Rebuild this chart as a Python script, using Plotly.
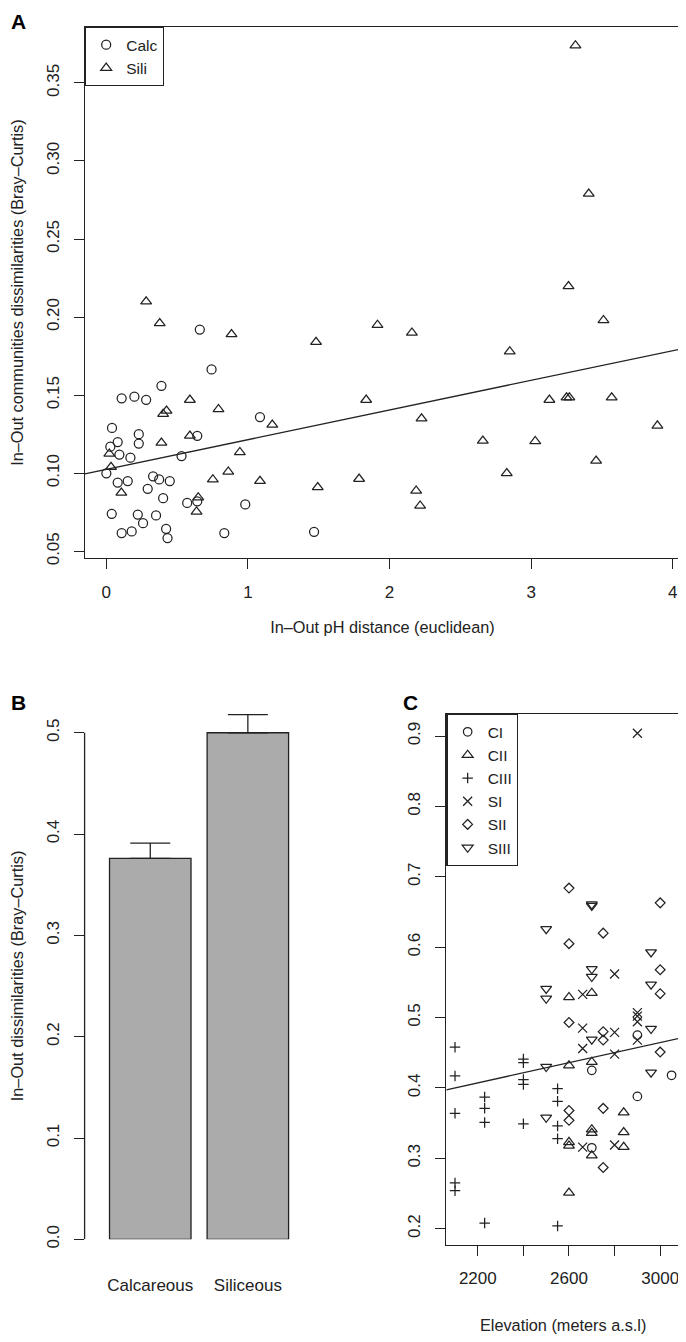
import plotly.graph_objects as go

# ---- panel A: in-out pH distance vs community dissimilarity ----
calc_ph = [0.66, 0.743, 0.389, 0.108, 0.198, 0.281, 1.085, 0.040, 0.080, 0.028,
           0.229, 0.229, 0.092, 0.170, 0.642, 0.531, 0.0, 0.080, 0.151, 0.330,
           0.373, 0.448, 0.292, 0.401, 0.571, 0.642, 0.981, 0.038, 0.222, 0.351,
           0.259, 0.422, 0.108, 0.179, 0.432, 0.833, 1.467]
calc_diss = [0.192, 0.1665, 0.156, 0.148, 0.149, 0.147, 0.136, 0.129, 0.120, 0.117,
             0.125, 0.119, 0.112, 0.110, 0.124, 0.111, 0.100, 0.094, 0.095, 0.098,
             0.096, 0.095, 0.090, 0.084, 0.081, 0.082, 0.080, 0.074, 0.0735, 0.073,
             0.068, 0.0644, 0.0617, 0.0627, 0.0585, 0.0617, 0.0625]
sili_ph = [0.281, 0.377, 0.884, 1.481, 1.915, 0.590, 0.425, 0.401, 0.792, 1.835,
           1.172, 0.590, 0.389, 0.021, 0.033, 0.943, 0.861, 0.752, 1.085, 1.785,
           1.493, 0.106, 0.649, 0.637,
           2.158, 2.849, 3.511, 3.129, 3.25, 3.27, 3.569, 2.226, 2.659, 3.029,
           3.892, 3.459, 2.828, 2.188, 2.216, 3.313, 3.407, 3.264]
sili_diss = [0.210, 0.196, 0.189, 0.184, 0.195, 0.147, 0.140, 0.138, 0.141, 0.147,
             0.131, 0.124, 0.1195, 0.1125, 0.104, 0.1135, 0.101, 0.096, 0.095, 0.0964,
             0.091, 0.0875, 0.0845, 0.0754,
             0.190, 0.178, 0.198, 0.147, 0.1485, 0.1485, 0.1485, 0.135, 0.1208, 0.1205,
             0.1305, 0.108, 0.100, 0.0888, 0.0792, 0.374, 0.279, 0.2197]
fit_a = (0.1025, 0.019)  # intercept, slope

# ---- panel B: mean dissimilarity by substrate ----
substrates = ["Calcareous", "Siliceous"]
mean_diss = [0.376, 0.500]
err_diss = [0.015, 0.018]

# ---- panel C: elevation vs dissimilarity per group ----
ci_elev = [2900, 2700, 3050, 2700, 2900]
ci_diss = [0.475, 0.425, 0.418, 0.315, 0.388]
cii_elev = [2600, 2700, 2600, 2700, 2600, 2600, 2600, 2700, 2700, 2700, 2840, 2840, 2840]
cii_diss = [0.529, 0.535, 0.432, 0.437, 0.323, 0.318, 0.251, 0.341, 0.336, 0.304,
            0.365, 0.337, 0.316]
ciii_elev = [2100, 2100, 2100, 2100, 2100, 2230, 2230, 2230, 2230,
             2400, 2400, 2400, 2400, 2400, 2550, 2550, 2550, 2550, 2550]
ciii_diss = [0.458, 0.417, 0.364, 0.265, 0.254, 0.387, 0.371, 0.351, 0.208,
             0.441, 0.436, 0.412, 0.405, 0.349, 0.399, 0.381, 0.346, 0.328, 0.204]
si_elev = [2900, 2800, 2660, 2660, 2800, 2900, 2900, 2900, 2900, 2660, 2800, 2660, 2800]
si_diss = [0.904, 0.562, 0.533, 0.485, 0.479, 0.507, 0.502, 0.494, 0.468, 0.456,
           0.448, 0.316, 0.319]
sii_elev = [2600, 3000, 2750, 2600, 3000, 3000, 2600, 2750, 2750, 3000, 2600, 2600, 2750, 2750]
sii_diss = [0.684, 0.663, 0.620, 0.605, 0.568, 0.534, 0.493, 0.480, 0.468, 0.451,
            0.368, 0.354, 0.371, 0.287]
siii_elev = [2700, 2700, 2500, 2960, 2700, 2700, 2500, 2960, 2500, 2700, 2960, 2500, 2960, 2500]
siii_diss = [0.661, 0.659, 0.626, 0.593, 0.569, 0.558, 0.541, 0.547, 0.527, 0.469,
             0.484, 0.430, 0.422, 0.358]
fit_c = (0.250, 7.15e-5)
elev_ticks = [2200, 2400, 2600, 2800, 3000]
elev_labels = ["2200", "", "2600", "", "3000"]

INK = "#222222"
FONT = "Liberation Sans, Arial, sans-serif"
# the page body has an 8px margin, so the figure is laid out in screen px minus OFF
OFF = 8
W, H = 686 - OFF, 1342 - OFF

xa_range = [-0.1516, 4.0515]
ya_range = [0.04555, 0.3859]
xc_range = [2062, 3087]
yc_range = [0.177, 0.9315]


def px_x(a, b):
    return [(a - OFF) / W, (b - OFF) / W]


def px_y(top, bottom):
    return [1 - (bottom - OFF) / H, 1 - (top - OFF) / H]


def boxed(**kw):
    d = dict(showline=True, linecolor=INK, linewidth=1.3, mirror=True,
             ticks="outside", ticklen=10, tickwidth=1.3, tickcolor=INK,
             showgrid=False, zeroline=False, ticklabelstandoff=8,
             tickfont=dict(size=17, color=INK))
    d.update(kw)
    return d


def open_marker(sym, size):
    return dict(symbol=sym, size=size, color=INK, line=dict(color=INK, width=1.25))


fig = go.Figure()

# A
fig.add_trace(go.Scatter(x=calc_ph, y=calc_diss, mode="markers", name="Calc",
                         marker=open_marker("circle-open", 9), xaxis="x", yaxis="y",
                         legend="legend"))
fig.add_trace(go.Scatter(x=sili_ph, y=sili_diss, mode="markers", name="Sili",
                         marker=open_marker("triangle-up-open", 9.5), xaxis="x", yaxis="y",
                         legend="legend"))
fig.add_trace(go.Scatter(x=xa_range, y=[fit_a[0] + fit_a[1] * v for v in xa_range],
                         mode="lines", line=dict(color=INK, width=1.3), showlegend=False,
                         xaxis="x", yaxis="y", hoverinfo="skip"))

# B
fig.add_trace(go.Bar(x=substrates, y=mean_diss, xaxis="x2", yaxis="y2", showlegend=False,
                     marker=dict(color="#ababab", line=dict(color=INK, width=1.3)),
                     error_y=dict(type="data", symmetric=False, array=err_diss,
                                  arrayminus=[0] * len(err_diss), color=INK,
                                  thickness=1.3, width=20)))

# C
groups = [("CI", ci_elev, ci_diss, "circle-open", 8.5),
          ("CII", cii_elev, cii_diss, "triangle-up-open", 9.5),
          ("CIII", ciii_elev, ciii_diss, "cross-thin-open", 7.5),
          ("SI", si_elev, si_diss, "x-thin-open", 9),
          ("SII", sii_elev, sii_diss, "diamond-open", 7.5),
          ("SIII", siii_elev, siii_diss, "triangle-down-open", 9.5)]
for name, xs, ys, sym, size in groups:
    fig.add_trace(go.Scatter(x=xs, y=ys, mode="markers", name=name,
                             marker=open_marker(sym, size), xaxis="x3", yaxis="y3",
                             legend="legend2"))
fig.add_trace(go.Scatter(x=xc_range, y=[fit_c[0] + fit_c[1] * v for v in xc_range],
                         mode="lines", line=dict(color=INK, width=1.3), showlegend=False,
                         xaxis="x3", yaxis="y3", hoverinfo="skip"))

title_font = dict(size=16.3, color=INK)
legend_style = dict(xanchor="left", yanchor="top", bgcolor="white", bordercolor=INK,
                    borderwidth=1.3, font=dict(size=15.5, color=INK), itemwidth=30,
                    tracegroupgap=0)
fig.update_layout(
    width=W, height=H, margin=dict(l=0, r=0, t=0, b=0),
    paper_bgcolor="white", plot_bgcolor="white",
    font=dict(family=FONT, color=INK, size=17),
    xaxis=boxed(domain=px_x(84, 680), range=xa_range, dtick=1, tick0=0, anchor="y",
                title=dict(text="In\u2013Out pH distance (euclidean)", font=title_font, standoff=20)),
    yaxis=boxed(domain=px_y(27, 562), range=ya_range, dtick=0.05, tick0=0.05,
                tickformat=".2f", tickangle=-90, anchor="x",
                title=dict(text="In\u2013Out communities dissimilarities (Bray\u2013Curtis)",
                           font=title_font, standoff=24)),
    xaxis2=dict(domain=px_x(83.7, 295), range=[-0.673, 1.489], anchor="y2",
                showline=False, ticks="", showgrid=False, zeroline=False,
                ticklabelstandoff=34, tickfont=dict(size=17, color=INK)),
    yaxis2=dict(domain=px_y(717.3, 1247.7), range=[0, 0.52], anchor="x2",
                showline=False, ticks="outside", ticklen=10, tickwidth=1.3, tickcolor=INK,
                dtick=0.1, tick0=0, tickformat=".1f", tickangle=-90,
                showgrid=False, zeroline=False, ticklabelstandoff=8,
                tickfont=dict(size=17, color=INK),
                title=dict(text="In\u2013Out dissimilarities (Bray\u2013Curtis)",
                           font=title_font, standoff=24)),
    bargap=0.165,
    xaxis3=boxed(domain=px_x(446, 680), range=xc_range, tickvals=elev_ticks,
                 ticktext=elev_labels, anchor="y3",
                 title=dict(text="Elevation (meters a.s.l)", font=title_font, standoff=32)),
    yaxis3=boxed(domain=px_y(718.7, 1253.3), range=yc_range, dtick=0.1, tick0=0.2,
                 tickformat=".1f", tickangle=-90, anchor="x3"),
    legend=dict(x=(84 - OFF) / W, y=1 - (27 - OFF) / H, **legend_style),
    legend2=dict(x=(446 - OFF) / W, y=1 - (718.7 - OFF) / H, **legend_style),
    shapes=[dict(type="line", xref="x2 domain", yref="y2", x0=0, x1=0, y0=0, y1=0.5,
                 line=dict(color=INK, width=1.3))],
    annotations=[
        dict(text="<b>%s</b>" % letter, x=(lx - OFF) / W, y=1 - max(ly - OFF, 0) / H,
             xref="paper", yref="paper", xanchor="left", yanchor="top",
             showarrow=False, font=dict(size=21, color="black"))
        for letter, lx, ly in [("A", 8, 1), ("B", 8, 694), ("C", 401, 694)]
    ],
)

fig.write_html("out.html")
